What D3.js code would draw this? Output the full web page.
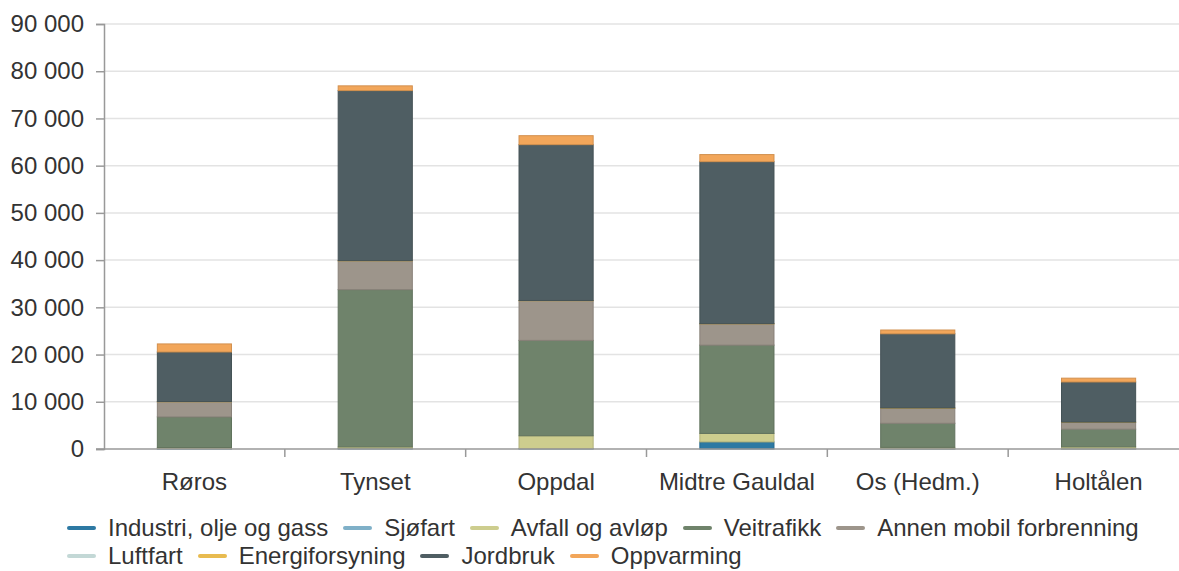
<!DOCTYPE html>
<html lang="no">
<head>
<meta charset="UTF-8">
<script src="https://cdn.jsdelivr.net/npm/d3@7"></script>
<style>
  body { margin: 0; background: #fff; font-family: "Liberation Sans", Arial, sans-serif; color: #333; }
  #legend { position: absolute; left: 67px; top: 514px; width: 1110px; display: flex; flex-wrap: wrap; font-size: 24px; line-height: 28px; }
  .item { display: flex; align-items: center; margin-right: 15px; white-space: nowrap; }
  .sw { width: 29px; height: 4px; border-radius: 2px; margin-right: 12px; }
</style>
</head>
<body>
<svg id="chart" width="1179" height="505"></svg>
<div id="legend"></div>
<script>
const kommuner = ["Røros", "Tynset", "Oppdal", "Midtre Gauldal", "Os (Hedm.)", "Holtålen"];
const sektorer = ["Industri, olje og gass", "Sjøfart", "Avfall og avløp", "Veitrafikk", "Annen mobil forbrenning", "Luftfart", "Energiforsyning", "Jordbruk", "Oppvarming"];
const farger = ["#2d79a3", "#7fb0c8", "#cdcd8e", "#6f836b", "#9d958b", "#c3d8d6", "#e8bb50", "#4f5e63", "#f2a65a"];

const industri   = [100, 150, 100, 1500, 50, 50];
const sjofart    = [0, 0, 0, 0, 0, 0];
const avfall     = [200, 300, 2700, 1800, 300, 400];
const veitrafikk = [6500, 33300, 20200, 18700, 5100, 3750];
const annenMobil = [3200, 6100, 8400, 4500, 3200, 1450];
const luftfart   = [0, 0, 0, 0, 0, 0];
const energi     = [50, 50, 50, 50, 50, 50];
const jordbruk   = [10500, 36000, 33000, 34300, 15700, 8500];
const oppvarming = [1700, 1000, 1900, 1500, 800, 800];
const yTicks = [0, 10000, 20000, 30000, 40000, 50000, 60000, 70000, 80000, 90000];

const serier = [industri, sjofart, avfall, veitrafikk, annenMobil, luftfart, energi, jordbruk, oppvarming];
const rows = kommuner.map((k, i) => {
  const r = { kommune: k };
  sektorer.forEach((s, j) => r[s] = serier[j][i]);
  return r;
});

const svg = d3.select("#chart");
const mLeft = 104, mRight = 1189, mTop = 24, mBottom = 449;

const x = d3.scaleBand().domain(kommuner).range([mLeft, mRight]).paddingInner(0.59).paddingOuter(0.295);
const y = d3.scaleLinear().domain([0, 90000]).range([mBottom, mTop]);
const fmt = v => d3.format(",")(v).replace(/,/g, " ");

// gridlines
svg.append("g").selectAll("line").data(yTicks.slice(1)).join("line")
  .attr("x1", mLeft).attr("x2", mRight)
  .attr("y1", d => y(d)).attr("y2", d => y(d))
  .attr("stroke", "#e3e3e3").attr("stroke-width", 1.5);

const stack = d3.stack().keys(sektorer)(rows);
const color = d3.scaleOrdinal().domain(sektorer).range(farger);

svg.append("g").selectAll("g").data(stack).join("g")
  .attr("fill", d => color(d.key))
  .attr("stroke", d => d3.color(color(d.key)).darker(0.4))
  .selectAll("rect").data(d => d.filter(p => p[1] > p[0])).join("rect")
  .attr("x", d => x(d.data.kommune))
  .attr("width", x.bandwidth())
  .attr("y", d => y(d[1]))
  .attr("height", d => y(d[0]) - y(d[1]));

// y axis
const ya = svg.append("g").attr("transform", `translate(${mLeft},0)`)
  .call(d3.axisLeft(y).tickValues(yTicks).tickFormat(fmt).tickSize(8).tickPadding(12));
ya.select(".domain").attr("stroke", "#999").attr("stroke-width", 1.5);
ya.selectAll(".tick line").attr("stroke", "#999").attr("stroke-width", 1.5);
ya.selectAll("text").attr("font-size", 24).attr("fill", "#333").attr("font-family", "'Liberation Sans', Arial, sans-serif");

// x axis
const xa = svg.append("g").attr("transform", `translate(0,${mBottom})`);
xa.append("line").attr("x1", mLeft - 8).attr("x2", mRight).attr("stroke", "#999").attr("stroke-width", 1.5);
const step = x.step();
xa.selectAll(".sep").data(kommuner.slice(1)).join("line")
  .attr("x1", d => x(d) - x.paddingInner() * step / 2).attr("x2", d => x(d) - x.paddingInner() * step / 2)
  .attr("y1", 0).attr("y2", 8).attr("stroke", "#999").attr("stroke-width", 1.5);
xa.selectAll("text").data(kommuner).join("text")
  .attr("x", d => x(d) + x.bandwidth() / 2).attr("y", 24).attr("dy", "0.71em")
  .attr("text-anchor", "middle").attr("font-size", 24).attr("fill", "#333")
  .text(d => d);

// legend
const lg = d3.select("#legend").selectAll(".item").data(sektorer).join("div").attr("class", "item");
lg.append("div").attr("class", "sw").style("background", d => color(d));
lg.append("span").text(d => d);
</script>
</body>
</html>
